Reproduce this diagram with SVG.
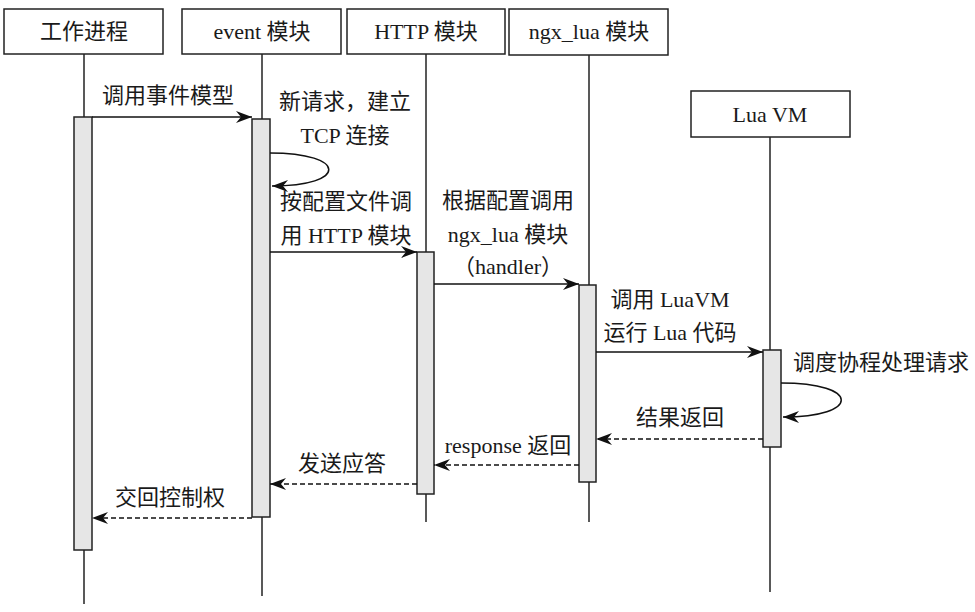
<svg xmlns="http://www.w3.org/2000/svg" width="975" height="612" viewBox="0 0 975 612">
<defs>
<style>
.box{fill:#fff;stroke:#222;stroke-width:1.5}
.life{stroke:#222;stroke-width:1.5;fill:none}
.bar{fill:#e6e6e6;stroke:#222;stroke-width:1.5}
.msg{stroke:#111;stroke-width:1.5;fill:none;marker-end:url(#ah)}
.ret{stroke:#111;stroke-width:1.5;fill:none;stroke-dasharray:5 3;marker-end:url(#ah)}
text{font-family:"Liberation Serif","Noto Sans CJK SC",serif;font-size:22px;fill:#1a1a1a}
.c{text-anchor:middle}
</style>
<marker id="ah" markerUnits="userSpaceOnUse" markerWidth="18" markerHeight="14" refX="16" refY="6" orient="auto">
<path d="M0,0 L16,6 L0,12 L5,6 z" fill="#111"/>
</marker>
</defs>
<rect width="975" height="612" fill="#fff"/>
<g id="worker">
<line class="life" x1="84" y1="54" x2="84" y2="604"/>
<rect class="box" x="4" y="9" width="159" height="45"/>
<text class="c" x="84" y="39">工作进程</text>
<rect class="bar" x="74" y="117" width="18" height="433"/>
</g>
<g id="event">
<line class="life" x1="262" y1="54" x2="262" y2="596"/>
<rect class="box" x="182" y="9" width="159" height="45"/>
<text class="c" x="262" y="39">event 模块</text>
<rect class="bar" x="252" y="119" width="18" height="398"/>
</g>
<g id="http">
<line class="life" x1="426" y1="54" x2="426" y2="522"/>
<rect class="box" x="347" y="9" width="158" height="45"/>
<text class="c" x="426" y="39">HTTP 模块</text>
<rect class="bar" x="417" y="252" width="17" height="242"/>
</g>
<g id="ngxlua">
<line class="life" x1="589" y1="55" x2="589" y2="522"/>
<rect class="box" x="509" y="9" width="159" height="46"/>
<text class="c" x="589" y="39">ngx_lua 模块</text>
<rect class="bar" x="579" y="285" width="17" height="197"/>
</g>
<g id="luavm">
<line class="life" x1="770" y1="137" x2="770" y2="592"/>
<rect class="box" x="691" y="91" width="159" height="46"/>
<text class="c" x="770" y="122">Lua VM</text>
<rect class="bar" x="763" y="350" width="18" height="97"/>
</g>
<g id="connectors">
<line class="msg" x1="92" y1="117" x2="252" y2="117"/>
<text class="c" x="168" y="103">调用事件模型</text>
<path class="msg" d="M270,153 C348,153 348,186 272,186"/>
<text class="c" x="345" y="109">新请求，建立</text>
<text class="c" x="345" y="143">TCP 连接</text>
<line class="msg" x1="270" y1="252" x2="417" y2="252"/>
<text class="c" x="346" y="209">按配置文件调</text>
<text class="c" x="346" y="243">用 HTTP 模块</text>
<line class="msg" x1="434" y1="284" x2="579" y2="284"/>
<text class="c" x="508" y="208">根据配置调用</text>
<text class="c" x="508" y="242">ngx_lua 模块</text>
<text class="c" x="508" y="274">（handler）</text>
<line class="msg" x1="596" y1="352" x2="763" y2="352"/>
<text class="c" x="670" y="307">调用 LuaVM</text>
<text class="c" x="670" y="340">运行 Lua 代码</text>
<path class="msg" d="M781,383 C861,383 861,417 783,417"/>
<text x="793" y="370">调度协程处理请求</text>
<line class="ret" x1="763" y1="439" x2="596" y2="439"/>
<text class="c" x="680" y="425">结果返回</text>
<line class="ret" x1="579" y1="465" x2="434" y2="465"/>
<text class="c" x="508" y="453">response 返回</text>
<line class="ret" x1="417" y1="484" x2="270" y2="484"/>
<text class="c" x="342" y="471">发送应答</text>
<line class="ret" x1="252" y1="518" x2="92" y2="518"/>
<text class="c" x="170" y="505">交回控制权</text>
</g>
</svg>
